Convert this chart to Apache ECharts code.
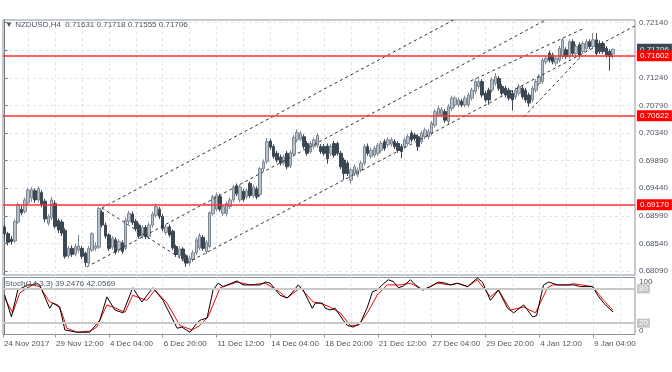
<!DOCTYPE html>
<html><head><meta charset="utf-8">
<script src="https://cdn.jsdelivr.net/npm/echarts@6/dist/echarts.min.js"></script>
<style>html,body{margin:0;padding:0;background:#fff}#c{width:672px;height:372px}</style>
</head><body><div id="c"></div>
<script>
const symbolTitle = '\u25BC NZDUSD,H4  0.71631 0.71718 0.71555 0.71706';
const stochTitle = 'Stoch(14,3,3) 39.2476 42.0569';
// H4 candles: [open, close, low, high]
const candles = [
[0.6881,0.6870,0.6862,0.6885],[0.6870,0.6856,0.6851,0.6873],[0.6861,0.6857,0.6852,0.6866],[0.6858,0.6890,0.6855,0.6893],
[0.6889,0.6917,0.6886,0.6921],[0.6910,0.6904,0.6900,0.6916],[0.6906,0.6925,0.6903,0.6929],[0.6920,0.6941,0.6917,0.6945],
[0.6928,0.6942,0.6922,0.6946],[0.6940,0.6925,0.6920,0.6944],[0.6925,0.6944,0.6921,0.6947],[0.6937,0.6918,0.6913,0.6941],
[0.6923,0.6894,0.6889,0.6927],[0.6887,0.6898,0.6883,0.6902],[0.6896,0.6925,0.6892,0.6930],[0.6919,0.6882,0.6878,0.6924],
[0.6891,0.6876,0.6871,0.6895],[0.6889,0.6871,0.6866,0.6893],[0.6875,0.6833,0.6829,0.6879],[0.6834,0.6846,0.6830,0.6850],
[0.6846,0.6836,0.6832,0.6851],[0.6837,0.6849,0.6833,0.6853],[0.6843,0.6850,0.6838,0.6868],[0.6846,0.6833,0.6829,0.6850],
[0.6838,0.6823,0.6816,0.6841],[0.6822,0.6846,0.6819,0.6850],[0.6843,0.6870,0.6840,0.6873],[0.6846,0.6850,0.6842,0.6856],
[0.6848,0.6911,0.6845,0.6914],[0.6905,0.6884,0.6880,0.6909],[0.6884,0.6866,0.6862,0.6888],[0.6868,0.6846,0.6842,0.6871],
[0.6848,0.6862,0.6844,0.6866],[0.6860,0.6840,0.6836,0.6864],[0.6843,0.6857,0.6839,0.6861],[0.6855,0.6841,0.6837,0.6859],
[0.6846,0.6892,0.6843,0.6896],[0.6890,0.6903,0.6886,0.6907],[0.6902,0.6888,0.6884,0.6906],[0.6890,0.6878,0.6874,0.6894],
[0.6884,0.6866,0.6862,0.6887],[0.6866,0.6880,0.6862,0.6884],[0.6880,0.6865,0.6861,0.6884],[0.6866,0.6884,0.6862,0.6888],
[0.6884,0.6902,0.6880,0.6906],[0.6900,0.6914,0.6896,0.6919],[0.6910,0.6898,0.6894,0.6914],[0.6898,0.6878,0.6874,0.6902],
[0.6872,0.6881,0.6868,0.6885],[0.6881,0.6868,0.6864,0.6885],[0.6874,0.6847,0.6843,0.6877],[0.6849,0.6836,0.6832,0.6852],
[0.6834,0.6845,0.6830,0.6849],[0.6845,0.6829,0.6825,0.6848],[0.6834,0.6822,0.6816,0.6837],[0.6822,0.6830,0.6818,0.6834],
[0.6828,0.6839,0.6824,0.6843],[0.6839,0.6860,0.6835,0.6864],[0.6847,0.6867,0.6843,0.6871],[0.6864,0.6846,0.6842,0.6868],
[0.6841,0.6856,0.6837,0.6860],[0.6849,0.6904,0.6846,0.6907],[0.6903,0.6930,0.6899,0.6933],[0.6910,0.6933,0.6906,0.6937],
[0.6931,0.6910,0.6906,0.6935],[0.6903,0.6914,0.6899,0.6918],[0.6903,0.6919,0.6899,0.6923],[0.6914,0.6925,0.6910,0.6929],
[0.6925,0.6946,0.6921,0.6950],[0.6948,0.6935,0.6931,0.6952],[0.6925,0.6946,0.6921,0.6950],[0.6939,0.6926,0.6922,0.6943],
[0.6930,0.6940,0.6926,0.6944],[0.6952,0.6932,0.6928,0.6955],[0.6932,0.6946,0.6928,0.6950],[0.6943,0.6930,0.6926,0.6947],
[0.6934,0.6976,0.6930,0.6979],[0.6976,0.6987,0.6972,0.6991],[0.6988,0.7020,0.6984,0.7026],[0.7021,0.7011,0.7007,0.7025],
[0.7012,0.6996,0.6992,0.7016],[0.7001,0.6990,0.6986,0.7005],[0.6995,0.6985,0.6981,0.6999],[0.6985,0.6995,0.6981,0.6999],
[0.7001,0.6979,0.6975,0.7005],[0.6981,0.7002,0.6977,0.7006],[0.7000,0.7027,0.6996,0.7031],[0.7023,0.7035,0.7019,0.7040],
[0.7024,0.7033,0.7020,0.7037],[0.7028,0.7012,0.7008,0.7032],[0.7017,0.7001,0.6997,0.7021],[0.7004,0.7017,0.7000,0.7021],
[0.7012,0.7023,0.7008,0.7027],[0.7014,0.7030,0.7010,0.7034],[0.7012,0.7004,0.7000,0.7016],[0.7012,0.7001,0.6997,0.7016],
[0.7013,0.6992,0.6984,0.7017],[0.7001,0.7012,0.6997,0.7016],[0.7017,0.6998,0.6994,0.7021],[0.7017,0.7001,0.6997,0.7020],
[0.7001,0.6979,0.6975,0.7005],[0.6990,0.6968,0.6958,0.6994],[0.6985,0.6968,0.6964,0.6989],[0.6957,0.6974,0.6952,0.6978],
[0.6968,0.6979,0.6964,0.6983],[0.6966,0.6974,0.6962,0.6978],[0.6974,0.6985,0.6970,0.6989],[0.6985,0.7012,0.6981,0.7016],
[0.7012,0.7001,0.6997,0.7017],[0.6996,0.7006,0.6992,0.7010],[0.6998,0.7009,0.6994,0.7013],[0.7001,0.7014,0.6997,0.7018],
[0.7006,0.7017,0.7002,0.7021],[0.7020,0.7009,0.7005,0.7024],[0.7015,0.7023,0.7011,0.7027],[0.7016,0.7023,0.7012,0.7027],
[0.7020,0.7012,0.7008,0.7024],[0.7017,0.7006,0.7002,0.7021],[0.7012,0.7004,0.6993,0.7016],[0.7012,0.7023,0.7008,0.7027],
[0.7017,0.7028,0.7013,0.7032],[0.7034,0.7023,0.7019,0.7038],[0.7031,0.7025,0.7021,0.7035],[0.7028,0.7012,0.7005,0.7032],
[0.7020,0.7034,0.7016,0.7038],[0.7028,0.7039,0.7024,0.7043],[0.7028,0.7036,0.7024,0.7041],[0.7034,0.7050,0.7030,0.7054],
[0.7047,0.7069,0.7043,0.7073],[0.7064,0.7074,0.7060,0.7079],[0.7064,0.7072,0.7060,0.7076],[0.7069,0.7055,0.7051,0.7073],
[0.7053,0.7077,0.7048,0.7081],[0.7074,0.7091,0.7070,0.7095],[0.7080,0.7091,0.7076,0.7095],[0.7080,0.7088,0.7076,0.7092],
[0.7086,0.7080,0.7076,0.7090],[0.7080,0.7091,0.7076,0.7095],[0.7080,0.7096,0.7076,0.7100],[0.7091,0.7104,0.7087,0.7108],
[0.7102,0.7118,0.7098,0.7123],[0.7110,0.7118,0.7106,0.7122],[0.7118,0.7096,0.7092,0.7122],[0.7099,0.7088,0.7084,0.7103],
[0.7104,0.7088,0.7080,0.7108],[0.7104,0.7121,0.7100,0.7125],[0.7115,0.7126,0.7111,0.7132],[0.7123,0.7107,0.7103,0.7127],
[0.7110,0.7099,0.7095,0.7114],[0.7107,0.7096,0.7092,0.7111],[0.7104,0.7091,0.7087,0.7108],[0.7099,0.7088,0.7071,0.7103],
[0.7093,0.7104,0.7089,0.7108],[0.7099,0.7110,0.7095,0.7114],[0.7107,0.7093,0.7089,0.7111],[0.7104,0.7088,0.7084,0.7108],
[0.7096,0.7083,0.7077,0.7100],[0.7088,0.7107,0.7084,0.7111],[0.7104,0.7118,0.7100,0.7122],[0.7115,0.7126,0.7111,0.7130],
[0.7118,0.7153,0.7114,0.7157],[0.7150,0.7156,0.7146,0.7160],[0.7164,0.7153,0.7149,0.7168],[0.7161,0.7150,0.7146,0.7165],
[0.7148,0.7156,0.7144,0.7160],[0.7153,0.7172,0.7149,0.7176],[0.7159,0.7186,0.7155,0.7189],[0.7170,0.7159,0.7155,0.7174],
[0.7159,0.7183,0.7155,0.7187],[0.7183,0.7164,0.7160,0.7187],[0.7164,0.7175,0.7160,0.7179],[0.7178,0.7161,0.7157,0.7182],
[0.7167,0.7180,0.7163,0.7184],[0.7172,0.7183,0.7168,0.7187],[0.7183,0.7175,0.7171,0.7187],[0.7175,0.7186,0.7171,0.7197],
[0.7186,0.7164,0.7160,0.7197],[0.7180,0.7167,0.7163,0.7185],[0.7180,0.7167,0.7163,0.7184],[0.7172,0.7161,0.7157,0.7176],
[0.7167,0.7159,0.7136,0.7171],[0.71631,0.71706,0.71555,0.71718]
];
const totalSlots = 188; // bar slots on the time axis (incl. right shift)
const priceRange = [0.68026, 0.72184];
const priceTicks = [0.68090,0.68540,0.68990,0.69440,0.69890,0.70340,0.70790,0.71240,0.71690,0.72140];
const levelLines = [0.71602, 0.70622, 0.69170];
const lastPrice = 0.71706;
const timeTickBars = [-0.5,15,31,47,63,79,95,111,127,143,159,175];
const timeTickLabels = ['24 Nov 2017','29 Nov 12:00','4 Dec 04:00','6 Dec 20:00','11 Dec 12:00','14 Dec 04:00','18 Dec 20:00','21 Dec 12:00','27 Dec 04:00','29 Dec 20:00','4 Jan 12:00','9 Jan 04:00'];
const gridBars = [7,15,23,31,39,47,55,63,71,79,87,95,103,111,119,127,135,143,151,159,167,175,183];
// trend lines: [startBar, startPrice, endBar, endPrice]
const trendLines = [
  [28.9, 0.69119, 133.5, 0.72184],
  [28.9, 0.69119, 54.5, 0.68222],
  [24.4, 0.68157, 160.9, 0.72184],
  [54.2, 0.68222, 187.4, 0.72086],
  [138.6, 0.71189, 171.9, 0.72037],
  [154.4, 0.70602, 171.0, 0.71564]
];
// Stochastic readings: [bar, value]
const stochK = [[0,69],[2,31],[3.9,78],[6.9,87],[8.3,87],[9.5,90],[10.4,87],[13.4,46],[14.3,55],[16.4,48],[17.9,8],[21.5,4],[25.3,4],[28.3,25],[30.4,66],[32.8,43],[35.2,38],[38.1,82],[40.8,57],[44.1,82],[47.1,60],[51.3,11],[52.7,13],[55.1,4],[57.2,20],[58.1,25],[60.2,29],[62,78],[63.5,90],[65,84],[69.1,94],[70.9,87],[76,87],[77.5,92],[79,90],[81.9,69],[84,64],[85.5,73],[87.3,87],[88.8,78],[91.5,46],[92.4,55],[94.5,55],[95.4,46],[96.8,43],[98.3,46],[100.7,25],[101.9,16],[103.7,13],[105.8,20],[107.9,48],[109.4,75],[110.8,78],[112.3,87],[114.1,96],[115.6,93],[117.1,82],[118.6,85],[120.7,96],[122.2,87],[124.3,78],[126.6,84],[129,92],[131.1,90],[132.6,87],[134.7,90],[137.7,84],[140.6,99],[142.1,92],[144.5,60],[146.9,78],[149.6,46],[151.4,38],[154.4,52],[157,31],[158.2,33],[160.3,87],[161.8,92],[164.5,87],[167.5,87],[169.3,87],[171.3,84],[174.9,84],[176.4,69],[178.2,55],[181,39.2476]];
const stochD = [[0,64],[2.4,38],[4.5,73],[8.3,87],[10.4,84],[13.4,57],[15.8,52],[17,38],[18.5,11],[21.5,4],[25.3,6],[27.4,13],[30.4,52],[32.2,48],[35.8,39],[38.1,69],[40.2,64],[42.3,60],[44.7,78],[48.3,55],[52.1,16],[55.7,8],[58.1,16],[60.5,31],[64.1,82],[69.1,92],[73,87],[77.5,90],[81,78],[84,64],[87.9,82],[91.8,57],[93.9,55],[96.8,48],[99.8,38],[102.8,16],[105.2,16],[107.9,38],[110.8,69],[113.8,87],[117.7,87],[120.7,90],[124.6,78],[128.7,90],[132.6,87],[134.7,90],[137.7,84],[140.6,96],[144.5,66],[146.9,78],[150.5,43],[154.4,48],[157.9,38],[161.5,82],[163,87],[167.5,87],[169.3,89],[174.9,84],[178.2,60],[181,42.0569]];
const stochLevels = [80, 20];

const FONT = 'Liberation Sans, Arial, sans-serif';
const TXT = '#4b5664';
const FRAME = '#8a939c';
const GRIDC = '#e3e6e9';

const slots = [];
for (let i = 0; i < totalSlots; i++) slots.push(String(i));

const trendSeries = trendLines.map(t => ({
  type: 'line', xAxisIndex: 1, yAxisIndex: 0, silent: true, symbol: 'none', animation: false,
  data: [[t[0], t[1]], [t[2], t[3]]],
  lineStyle: { color: '#333', width: 1, type: [3, 3] }, z: 4
}));

const option = {
  animation: false,
  backgroundColor: '#fff',
  textStyle: { fontFamily: FONT },
  title: [
    { text: symbolTitle, left: 5, top: 21, padding: 0, textStyle: { fontSize: 8, color: TXT, fontWeight: 'normal', fontFamily: FONT } },
    { text: stochTitle, left: 5, top: 280, padding: 0, textStyle: { fontSize: 8, color: TXT, fontWeight: 'normal', fontFamily: FONT } }
  ],
  grid: [
    { left: 3, right: 37, top: 20, height: 255, show: true, borderColor: FRAME, borderWidth: 1 },
    { left: 3, right: 37, top: 277.5, height: 57, show: true, borderColor: FRAME, borderWidth: 1 }
  ],
  xAxis: [
    { type: 'category', gridIndex: 0, data: slots, boundaryGap: true, axisLine: { show: false }, axisTick: { show: false }, axisLabel: { show: false }, splitLine: { show: false } },
    { type: 'value', gridIndex: 0, min: -0.5, max: totalSlots - 0.5, axisLine: { show: false }, axisLabel: { show: false },
      axisTick: { show: false, customValues: gridBars }, splitLine: { show: true, lineStyle: { color: GRIDC, type: [3, 3] } } },
    { type: 'value', gridIndex: 1, min: -0.5, max: totalSlots - 0.5, axisLine: { show: false },
      axisTick: { show: true, customValues: timeTickBars, length: 3, lineStyle: { color: FRAME } },
      axisLabel: { customValues: timeTickBars, formatter: v => timeTickLabels[timeTickBars.indexOf(v)] || '', align: 'left', fontSize: 8, color: TXT, margin: 5, fontFamily: FONT, padding: [0, 0, 0, 1] },
      splitLine: { show: false } },
    { type: 'value', gridIndex: 1, min: -0.5, max: totalSlots - 0.5, axisLine: { show: false }, axisLabel: { show: false },
      axisTick: { show: false, customValues: gridBars }, splitLine: { show: true, lineStyle: { color: GRIDC, type: [3, 3] } } }
  ],
  yAxis: [
    { type: 'value', gridIndex: 0, position: 'right', min: priceRange[0], max: priceRange[1],
      axisLine: { show: true, lineStyle: { color: '#6f7a86' } },
      axisTick: { show: true, customValues: priceTicks, length: 3, lineStyle: { color: '#6f7a86' } },
      axisLabel: { customValues: priceTicks, formatter: v => v.toFixed(5), fontSize: 8, color: TXT, margin: 4, fontFamily: FONT },
      splitLine: { show: true, lineStyle: { color: GRIDC, type: [3, 3] } } },
    { type: 'value', gridIndex: 1, position: 'right', min: 0, max: 100,
      axisLine: { show: true, lineStyle: { color: '#6f7a86' } },
      axisTick: { show: false, customValues: [0, 100] },
      axisLabel: { customValues: [0, 100], fontSize: 8, color: TXT, margin: 4, fontFamily: FONT, verticalAlignMinLabel: 'bottom', verticalAlignMaxLabel: 'top' },
      splitLine: { show: false } }
  ],
  series: [
    { type: 'candlestick', xAxisIndex: 0, yAxisIndex: 0, data: candles, barWidth: 3, z: 3,
      itemStyle: { color: '#b9c1c9', color0: '#3b4753', borderColor: '#7d8894', borderColor0: '#3b4753', borderWidth: 1 },
      markLine: {
        silent: true, symbol: ['none', 'none'], animation: false, precision: 5,
        lineStyle: { color: '#ff3030', width: 1.5, type: 'solid' },
        label: { position: 'end', distance: 2, formatter: p => Number(p.value).toFixed(5), color: '#fff', backgroundColor: '#ff0000', padding: [2, 3, 1, 3], fontSize: 8, fontFamily: FONT },
        data: [{ yAxis: lastPrice, lineStyle: { color: 'rgba(0,0,0,0)', width: 0.01 }, label: { backgroundColor: '#3b4753', color: '#e8ebee' } }].concat(levelLines.map(v => ({ yAxis: v })))
      }
    },
    ...trendSeries,
    { type: 'line', xAxisIndex: 2, yAxisIndex: 1, data: stochD, symbol: 'none', silent: true, lineStyle: { color: '#ff0000', width: 1 }, z: 3,
      markLine: {
        silent: true, symbol: ['none', 'none'], animation: false, precision: 0,
        lineStyle: { color: '#c9c9c9', width: 2, type: 'solid' },
        label: { position: 'end', distance: 2, formatter: p => String(p.value), color: '#fff', backgroundColor: '#c4c4c4', padding: [1, 2, 0, 2], fontSize: 8, fontFamily: FONT },
        data: stochLevels.map(v => ({ yAxis: v }))
      } },
    { type: 'line', xAxisIndex: 2, yAxisIndex: 1, data: stochK, symbol: 'none', silent: true, lineStyle: { color: '#000', width: 1 }, z: 4 }
  ]
};
echarts.init(document.getElementById('c'), null, { renderer: 'canvas' }).setOption(option);
</script>
</body></html>
